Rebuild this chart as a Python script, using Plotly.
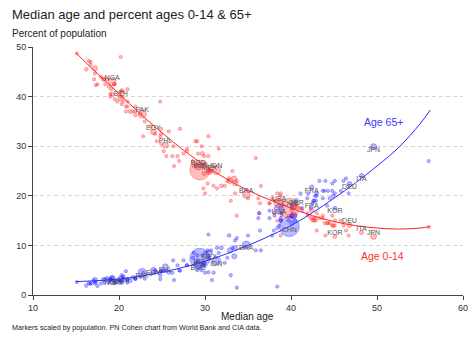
import plotly.graph_objects as go

# ---------------- data ----------------
codes = ["NER","UGA","AGO","MLI","TCD","COD","SOM","MOZ","ZMB","BDI","BFA","MWI","GMB","TZA","SSD","CMR","GIN","BEN","AFG","NGA",
         "SEN","CIV","SLE","LBR","MDG","ETH","SDN","TGO","COG","RWA","ZWE","MRT","YEM","KEN","IRQ","GHA","ERI","GNQ","GAB","COM",
         "PNG","TLS","SLB","STP","NAM","LSO","SYR","PSE","PAK","GTM","HTI","JOR","TJK","HND","EGY","LAO","BWA","KGZ","PHL","NPL",
         "BOL","KHM","NIC","DZA","PRY","UZB","TKM","ZAF","IND","BGD","MNG","VEN","ECU","PER","SAU","LBY","MAR","KAZ","DOM","MEX",
         "IDN","COL","MYS","MMR","OMN","ARE","QAT","KWT","BHR","ISR","IRN","AZE","TUR","VNM","BRA","ARG","TUN","LKA","LBN","CRI",
         "CHL","ARM","ALB","THA","CHN","USA","AUS","NZL","IRL","RUS","ISL","NOR","GBR","FRA","BEL","NLD","SWE","DNK","CAN","LUX",
         "CYP","GEO","URY","MDA","BLR","UKR","POL","CZE","SVK","HUN","ROU","SRB","HRV","BGR","AUT","CHE","ESP","PRT","GRC","SVN",
         "DEU","ITA","JPN","FIN","LTU","LVA","EST","KOR","HKG","SGP","MNE","MKD","BIH","MLT","PRI","MCO","BTN","FJI","GUY","SUR",
         "JAM","TTO","PAN","SLV","BLZ","CPV","SWZ","DJI","MUS","SYC","MDV","BRN","PRK"]

median_age = [15.1,16.2,16.7,16.5,16.7,17.2,20.2,17.1,17.5,17.2,17.9,17.3,18.3,18.2,18.6,18.8,19.4,18.4,19.5,19.2,
              19.1,20.3,19.5,19.0,20.3,20.2,19.2,20.0,20.2,20.8,20.5,21.0,19.8,21.3,21.9,21.9,20.3,21.0,21.6,21.0,
              23.0,20.8,20.5,19.0,22.5,24.9,22.8,21.9,22.7,24.2,24.9,24.8,24.8,24.9,24.0,24.4,25.8,27.1,25.4,26.8,
              26.3,27.9,27.9,28.9,29.2,29.6,29.1,29.7,29.4,29.2,30.4,30.0,29.1,30.7,30.8,26.2,29.7,31.6,28.6,30.5,
              31.3,31.9,30.3,29.9,26.4,38.4,33.7,30.0,33.0,30.4,33.4,32.6,33.5,32.9,34.8,32.8,33.2,33.7,35.9,33.5,
              36.4,38.4,36.3,40.1,39.8,38.6,37.5,38.1,38.8,40.3,37.5,40.1,40.6,42.4,41.9,42.8,41.1,42.0,42.6,39.7,
              38.9,38.8,36.2,38.6,41.3,42.5,42.9,43.7,42.3,44.3,43.7,43.9,44.8,45.1,44.5,42.7,44.9,46.4,46.1,45.8,
              46.8,48.2,49.6,43.3,45.1,44.8,43.0,45.1,46.7,38.8,40.1,40.5,44.2,43.0,44.0,56.0,29.8,29.9,27.5,30.5,
              31.4,37.8,30.3,28.7,25.5,27.0,23.7,25.2,38.0,36.5,31.0,32.3,35.0]

pct_0_14 = [48.7,45.5,46.4,47.2,47.0,45.7,48.0,43.5,42.5,44.7,44.0,42.3,43.5,43.5,43.5,42.0,42.5,42.5,42.5,43.0,
            41.5,41.3,39.5,40.5,38.5,39.7,40.5,40.5,41.0,38.0,41.0,41.5,39.0,37.0,36.3,37.0,40.0,38.0,37.0,39.0,
            35.0,37.0,39.0,40.0,36.5,33.5,32.0,38.0,36.5,32.5,32.5,32.0,39.0,30.5,32.9,31.0,33.0,33.5,30.2,28.0,
            30.0,29.5,29.0,31.0,28.5,30.0,31.0,28.5,25.2,25.9,32.0,26.5,26.0,25.0,26.0,28.0,26.0,29.5,27.0,24.9,
            25.2,22.0,22.5,24.5,26.0,15.0,16.0,20.5,19.0,28.0,23.5,23.0,22.5,23.0,20.3,23.5,25.0,23.0,27.6,20.5,
            18.5,20.5,16.5,16.0,17.5,18.5,18.5,19.0,20.0,18.0,18.5,17.0,17.8,17.1,16.5,15.5,17.5,16.0,15.5,16.0,
            16.0,20.5,19.5,19.0,17.0,15.0,15.0,16.0,15.5,14.5,15.5,14.5,14.0,14.0,14.5,15.0,14.0,13.0,14.0,15.0,
            14.1,12.6,11.8,15.5,15.0,16.0,16.5,11.8,12.0,12.0,17.5,16.0,14.5,13.0,12.0,13.7,21.5,28.0,28.5,25.0,
            21.5,19.5,25.0,26.0,28.0,27.0,34.0,29.0,16.5,22.0,22.0,22.0,19.5]

pct_65 = [2.6,1.9,2.3,2.4,2.3,3.0,2.7,2.9,1.8,2.3,2.3,2.6,2.5,3.1,3.4,2.7,2.9,3.2,2.4,3.0,
          3.1,2.4,2.8,3.2,3.1,3.2,3.6,3.1,2.8,3.1,3.5,3.2,2.8,2.9,3.5,3.2,4.0,2.5,3.6,3.2,
          3.3,4.8,3.8,3.0,3.6,4.7,4.5,3.3,4.5,5.0,4.9,4.0,3.2,4.9,5.0,4.6,4.5,4.9,5.7,6.0,
          7.0,6.0,6.0,6.5,7.0,5.0,5.0,6.0,7.4,6.0,4.6,8.5,8.0,9.0,3.0,4.5,8.0,8.5,7.5,8.4,
          6.9,9.5,7.5,6.5,3.0,1.7,1.5,4.5,4.0,12.2,7.8,7.5,9.5,9.0,10.1,12.0,9.5,11.5,9.0,11.0,
          13.0,13.5,16.5,14.5,13.8,17.3,17.0,16.0,15.0,16.0,15.5,18.0,19.0,21.7,19.5,20.0,20.5,20.5,19.0,15.0,
          16.5,15.5,15.5,14.0,17.5,18.5,19.0,21.0,17.5,21.0,19.5,21.0,22.5,23.0,19.5,19.0,20.0,23.5,23.0,21.0,
          22.4,24.1,29.9,23.0,20.5,21.0,20.5,17.5,20.5,15.0,16.0,15.0,18.0,20.0,23.0,27.0,6.5,6.0,7.0,7.5,
          9.5,12.0,9.0,8.5,4.8,5.0,4.2,4.8,13.0,9.0,4.5,6.5,12.0]

pop_millions = [26,47,36,22,18,99,17,33,20,13,22,20,2.7,65,11,28,14,13,41,218,
                17,28,8.6,5.3,30,123,47,8.8,6,14,16,4.7,33,54,44,33,3.7,1.7,2.4,0.8,
                10,1.3,0.7,0.2,2.6,2.3,22,5,236,17,11.5,11,10,10,111,7.5,2.6,7,116,30,
                12,17,7,45,6.8,35,6.4,60,1420,171,3.4,28,18,34,36,6.8,37,19.6,11,128,
                276,52,34,54,4.6,9.4,2.7,4.3,1.5,9.5,88,10,85,98,215,46,12,22,5.5,5.2,
                19.6,2.8,2.8,72,1410,333,26,5.1,5.1,144,0.4,5.5,67,68,11.6,17.7,10.5,5.9,39,0.65,
                1.2,3.7,3.4,2.5,9.2,38,37.6,10.7,5.4,9.6,19,6.7,3.9,6.5,9,8.8,47.5,10.4,10.4,2.1,
                84,59,125,5.5,2.8,1.9,1.3,52,7.3,5.6,0.6,2.1,3.2,0.5,3.2,0.04,0.78,0.9,0.8,0.6,
                2.8,1.5,4.4,6.3,0.4,0.6,1.2,1.1,1.3,0.1,0.5,0.45,26]

labels_0_14 = ["NGA","ETH","PAK","EGY","PHL","BGD","IND","IDN","MEX","BRA","USA","CHN","GBR","FRA","KOR","DEU","ITA","JPN"]
labels_65 = ["NGA","ETH","PAK","EGY","PHL","BGD","IND","IDN","MEX","BRA","USA","CHN","FRA","KOR","DEU","ITA","JPN"]

# fitted trend curves
fit_age = [15, 17.5, 20, 22.5, 25, 27.5, 30, 32.5, 35, 37.5, 40, 42.5, 45, 47.5, 50, 52.5, 55, 56.2]
fit_0_14 = [48.8, 44.6, 40.6, 36.5, 32.7, 29.2, 26.1, 23.4, 21.1, 19.2, 17.5, 16.0, 14.8, 14.0, 13.5, 13.3, 13.5, 13.8]
fit_65 = [2.7, 2.9, 3.2, 3.8, 4.6, 5.6, 6.8, 8.3, 10.0, 11.9, 14.0, 16.6, 19.5, 22.6, 26.0, 29.7, 34.5, 37.3]

# ---------------- figure ----------------
W, H = 475, 337
L, R, T, B = 33, 7, 47, 42
FONT = "Liberation Sans, Arial, sans-serif"

def px(x, y):
    return (x - L) / (W - L - R), (H - B - y) / (H - T - B)

idx = {c: i for i, c in enumerate(codes)}
sizeref = 2.0 * max(pop_millions) / (20 ** 2)

fig = go.Figure()

fig.add_trace(go.Scatter(
    x=median_age, y=pct_0_14, mode="markers",
    marker=dict(size=pop_millions, sizemode="area", sizeref=sizeref, sizemin=1.6,
                color="rgba(255,40,40,0.42)", line=dict(color="rgba(255,0,0,0.8)", width=0.6)),
    hoverinfo="skip", showlegend=False))

fig.add_trace(go.Scatter(
    x=median_age, y=pct_65, mode="markers",
    marker=dict(size=pop_millions, sizemode="area", sizeref=sizeref, sizemin=1.6,
                color="rgba(40,40,255,0.45)", line=dict(color="rgba(0,0,255,0.8)", width=0.6)),
    hoverinfo="skip", showlegend=False))

fig.add_trace(go.Scatter(x=fit_age, y=fit_0_14, mode="lines", line=dict(color="#ff2020", width=1, shape="spline"),
                         hoverinfo="skip", showlegend=False))
fig.add_trace(go.Scatter(x=fit_age, y=fit_65, mode="lines", line=dict(color="#2a2aff", width=1, shape="spline"),
                         hoverinfo="skip", showlegend=False))

fig.add_trace(go.Scatter(
    x=[median_age[idx[c]] for c in labels_0_14], y=[pct_0_14[idx[c]] for c in labels_0_14],
    text=labels_0_14, mode="text", textposition="top center",
    textfont=dict(size=7, color="#555555", family=FONT), hoverinfo="skip", showlegend=False))
fig.add_trace(go.Scatter(
    x=[median_age[idx[c]] for c in labels_65], y=[pct_65[idx[c]] for c in labels_65],
    text=labels_65, mode="text", textposition="bottom center",
    textfont=dict(size=7, color="#555555", family=FONT), hoverinfo="skip", showlegend=False))

annotations = []
def add_text(x, y, text, size, color="#222222", xanchor="left"):
    ax, ay = px(x, y)
    annotations.append(dict(x=ax, y=ay, xref="paper", yref="paper", text=text, showarrow=False,
                            xanchor=xanchor, yanchor="middle", font=dict(size=size, color=color, family=FONT)))

add_text(10, 14, "Median age and percent ages 0-14 & 65+", 13)
add_text(10, 33, "Percent of population", 10)
add_text(250, 316, "Median age", 10, xanchor="center")
add_text(10, 327, "Markers scaled by population. PN Cohen chart from World Bank and CIA data.", 7.2)

annotations.append(dict(x=50.8, y=34.9, xref="x", yref="y", text="Age 65+", showarrow=False,
                        font=dict(size=10.5, color="#3a3aff", family=FONT)))
annotations.append(dict(x=50.6, y=7.8, xref="x", yref="y", text="Age 0-14", showarrow=False,
                        font=dict(size=10.5, color="#ff3030", family=FONT)))

fig.update_layout(
    width=W, height=H, margin=dict(l=L, r=R, t=T, b=B),
    paper_bgcolor="white", plot_bgcolor="white",
    font=dict(family=FONT, size=9, color="#333333"),
    annotations=annotations,
    xaxis=dict(range=[10, 60], tickvals=[10, 20, 30, 40, 50, 60], showgrid=False, zeroline=False,
               showline=True, linecolor="#444444", linewidth=1, ticks="outside", ticklen=4,
               tickcolor="#444444", tickfont=dict(size=9, color="#333333")),
    yaxis=dict(range=[0, 50], tickvals=[0, 10, 20, 30, 40, 50], showgrid=True, gridcolor="#d4d4d4",
               griddash="4px,3px", gridwidth=1, zeroline=False,
               showline=True, linecolor="#444444", linewidth=1, ticks="outside", ticklen=4,
               tickcolor="#444444", tickfont=dict(size=9, color="#333333")),
)

fig.write_html("out.html")
